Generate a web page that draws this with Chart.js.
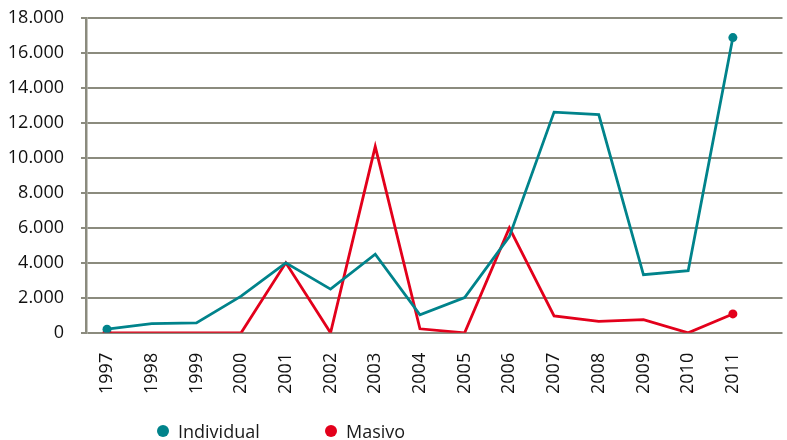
<!DOCTYPE html>
<html>
<head>
<meta charset="utf-8">
<script src="https://cdn.jsdelivr.net/npm/chart.js@4.4.1/dist/chart.umd.min.js"></script>
<style>
  html, body { margin: 0; padding: 0; background: #fff; }
  #wrap { position: relative; width: 787px; height: 440px; }
  #leyenda { position: absolute; left: 0; top: 421px; height: 20px; font-family: "Open Sans", sans-serif; font-size: 18px; color: #1a1a1a; }
  .item { position: absolute; top: 0; display: flex; align-items: center; height: 20px; white-space: nowrap; }
  .punto { width: 12px; height: 12px; border-radius: 50%; margin-right: 9px; }
</style>
</head>
<body>
<div id="wrap">
  <canvas id="grafica" width="787" height="440"></canvas>
  <div id="leyenda">
    <div class="item" style="left:157px"><span class="punto" style="background:#00838b"></span>Individual</div>
    <div class="item" style="left:325px"><span class="punto" style="background:#e3001b"></span>Masivo</div>
  </div>
</div>
<script>
// datos
const anios = [1997, 1998, 1999, 2000, 2001, 2002, 2003, 2004, 2005, 2006, 2007, 2008, 2009, 2010, 2011];
const individual = [210, 530, 570, 2100, 4000, 2500, 4500, 1030, 2020, 5500, 12620, 12480, 3320, 3550, 16880];
const masivo = [0, 0, 0, 0, 4000, 0, 10650, 230, 0, 6000, 970, 650, 760, 0, 1080];
const ticksY = [0, 2000, 4000, 6000, 8000, 10000, 12000, 14000, 16000, 18000];

const colorIndividual = '#00838b';
const colorMasivo = '#e3001b';
const colorRejilla = '#8b8b7e';

// solo el primer y último punto llevan marcador
const radios = anios.map((a, i) => (i === 0 || i === anios.length - 1) ? 4.5 : 0);

function formatoMiles(v) {
  return String(v).replace(/\B(?=(\d{3})+(?!\d))/g, '.');
}

const ctx = document.getElementById('grafica').getContext('2d');

const grafica = new Chart(ctx, {
  type: 'line',
  data: {
    datasets: [{
      label: 'Individual',
      data: anios.map((a, i) => ({ x: a, y: individual[i] })),
      borderColor: colorIndividual,
      backgroundColor: colorIndividual,
      borderWidth: 2.8,
      pointRadius: radios,
      pointBorderWidth: 0,
      tension: 0
    }, {
      label: 'Masivo',
      data: anios.map((a, i) => ({ x: a, y: masivo[i] })),
      borderColor: colorMasivo,
      backgroundColor: colorMasivo,
      borderWidth: 2.8,
      pointRadius: radios,
      pointBorderWidth: 0,
      tension: 0
    }]
  },
  options: {
    responsive: false,
    animation: false,
    layout: { padding: { left: 0, right: 0, top: 18, bottom: 34 } },
    plugins: {
      legend: { display: false },
      tooltip: { enabled: false }
    },
    scales: {
      x: {
        type: 'linear',
        min: 1996.53,
        max: 2012.11,
        afterBuildTicks: (escala) => { escala.ticks = anios.map(a => ({ value: a })); },
        grid: { display: false },
        border: { display: false },
        ticks: {
          autoSkip: false,
          minRotation: 90,
          maxRotation: 90,
          padding: 12,
          color: '#111',
          font: { family: 'Open Sans', size: 18 },
          callback: (v) => String(v)
        }
      },
      y: {
        min: 0,
        max: 18000,
        afterBuildTicks: (escala) => { escala.ticks = ticksY.map(v => ({ value: v })); },
        afterFit: (escala) => {
          escala.width = 86;
          escala.paddingTop = 0;
          escala.paddingBottom = 0;
        },
        grid: { color: colorRejilla, lineWidth: 2, tickLength: 5 },
        border: { color: colorRejilla, width: 2.5 },
        ticks: {
          padding: 17,
          color: '#111',
          font: { family: 'Open Sans', size: 18 },
          callback: (v) => formatoMiles(v)
        }
      }
    }
  }
});
</script>
</body>
</html>
